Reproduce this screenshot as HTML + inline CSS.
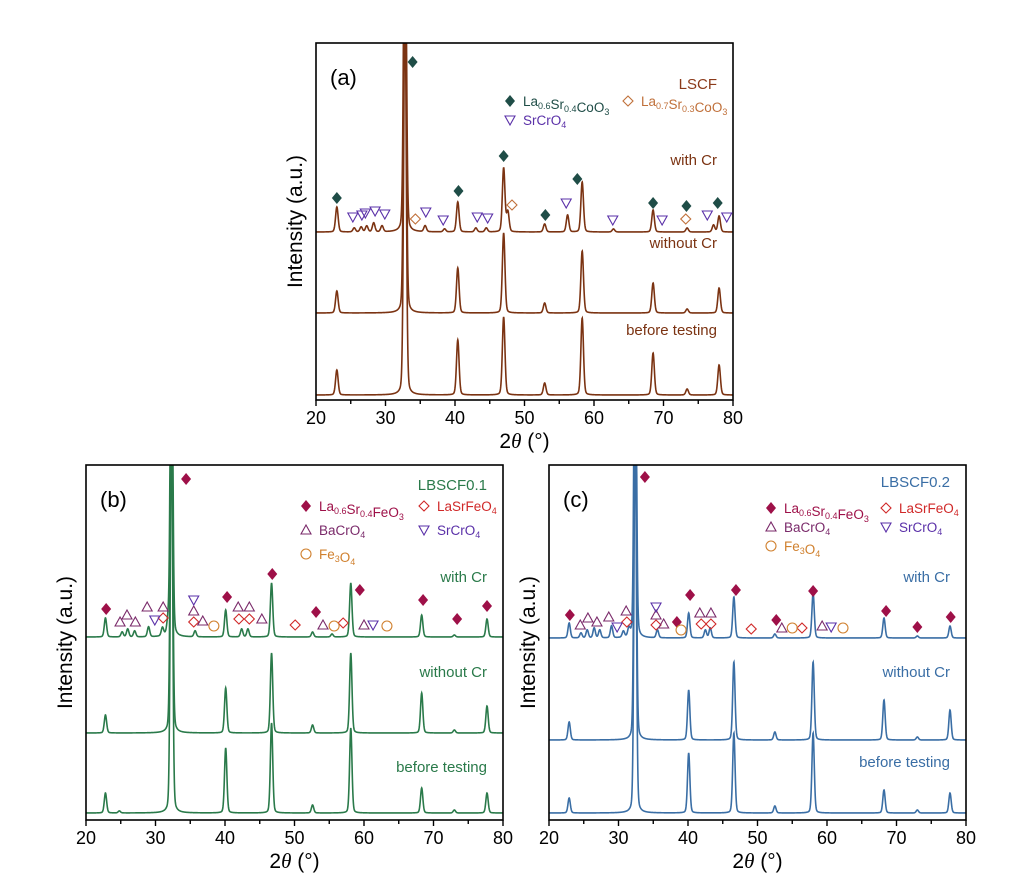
<!DOCTYPE html>
<html><head><meta charset="utf-8">
<style>
html,body{margin:0;padding:0;background:#fff;}
svg{display:block;font-family:"Liberation Sans",Arial,sans-serif;}
</style></head>
<body>
<svg id="fig" width="1034" height="896" viewBox="0 0 1034 896" xmlns="http://www.w3.org/2000/svg"></svg>
<script>
// ---------- DATA ----------
const ticksX = [20,30,40,50,60,70,80];
const traceNames = ["with Cr","without Cr","before testing"];
// Panel (a) LSCF peaks: positions (2θ) and heights (a.u.)
const aWithPos = [23.0,25.5,26.5,27.3,28.3,29.5,32.8,35.7,38.5,40.4,43.0,44.5,47.0,47.6,52.9,56.2,58.3,62.8,68.5,73.4,77.2,78.0];
const aWithH   = [25,4,5,6,9,6,400,6,3,30,4,4,64,20,8,17,50,3,22,4,7,16];
const aNoPos = [23.0,32.8,40.4,47.0,52.9,58.3,68.5,73.4,78.0];
const aNoH   = [22,400,45,80,10,62,30,4,25];
const aBefPos = [23.0,32.8,40.4,47.0,52.9,58.3,68.5,73.4,78.0];
const aBefH   = [25,400,55,78,12,77,42,6,30];
// Panel (b) LBSCF0.1
const bWithPos = [22.8,25.2,26.0,27.0,29.0,31.0,31.8,32.3,35.7,40.1,42.4,43.3,46.7,52.6,55.4,58.1,68.3,73.0,77.7];
const bWithH   = [19,5,8,6,10,8,12,400,6,27,8,8,54,5,3,54,22,2,18];
const bNoPos = [22.8,32.3,40.1,46.7,52.6,58.1,68.3,73.0,77.7];
const bNoH   = [18,400,45,80,8,80,40,3,27];
const bBefPos = [22.8,24.8,32.3,40.1,46.7,52.6,58.1,68.3,73.0,77.7];
const bBefH   = [20,2,400,65,90,8,85,25,3,20];
// Panel (c) LBSCF0.2
const cWithPos = [22.9,24.6,25.5,26.5,27.3,29.0,30.7,31.5,32.4,35.6,40.1,42.5,43.2,46.6,52.5,58.0,68.2,73.0,77.7];
const cWithH   = [15,5,8,10,8,12,6,8,400,8,25,8,10,41,4,45,20,2,12];
const cNoPos = [22.9,32.4,40.1,46.6,52.5,58.0,68.2,73.0,77.7];
const cNoH   = [18,400,50,78,8,78,40,3,30];
const cBefPos = [22.9,32.4,40.1,46.6,52.5,58.0,68.2,73.0,77.7];
const cBefH   = [15,400,60,80,7,80,23,3,20];
// Phase markers (2θ, height above with-Cr baseline)
const aDiaX=[23.0,33.9,40.5,47.0,53.0,57.6,68.5,73.3,77.8], aDiaY=[34,170,41,76,17,53,29,26,29];
const aOdiaX=[34.3,48.2,73.2], aOdiaY=[13,27,13];
const aTriDX=[25.3,26.6,27.1,28.5,29.9,35.8,38.3,43.2,44.7,56.0,62.7,69.8,76.3,79.1], aTriDY=[15,17,19,21,18,20,12,15,14,29,12,12,17,15];
const bDiaX=[22.9,34.4,40.3,46.8,53.1,59.4,68.5,73.4,77.7], bDiaY=[28,158,40,63,25,47,37,18,31];
const bOdiaX=[31.1,35.5,42.0,43.5,50.1,57.0], bOdiaY=[19,15,18,18,12,14];
const bTriUX=[24.9,25.9,27.1,28.8,31.1,35.5,36.8,41.9,43.5,45.3,54.1,60.0], bTriUY=[15,22,15,30,30,26,16,30,30,18,12,12];
const bTriDX=[29.9,35.5,61.3], bTriDY=[17,37,12];
const bCirX=[38.4,55.7,63.3], bCirY=[11,11,11];
const cDiaX=[23.0,33.8,38.4,40.3,46.9,52.7,58.0,68.5,73.0,77.8], cDiaY=[23,161,16,43,48,18,47,27,11,21];
const cOdiaX=[31.2,35.4,41.9,43.3,49.1,56.4], cOdiaY=[16,13,14,14,9,10];
const cTriUX=[24.5,25.6,26.9,28.6,31.1,35.4,36.5,41.7,43.3,53.5,59.3], cTriUY=[13,20,16,21,27,23,14,25,25,10,12];
const cTriDX=[29.8,35.4,60.6], cTriDY=[11,31,11];
const cCirX=[39.0,55.0,62.3], cCirY=[8,10,10];

// ---------- DRAWING ----------
const NS="http://www.w3.org/2000/svg";
const svg=document.getElementById('fig');
function mk(tag,attrs,parent){const e=document.createElementNS(NS,tag);for(const k in attrs)e.setAttribute(k,attrs[k]);(parent||svg).appendChild(e);return e;}
function profile(pos,h,x,w){let s=0;for(let i=0;i<pos.length;i++){const d=(x-pos[i])/w;s+=h[i]*(0.8*Math.exp(-0.693*d*d)+0.2/(1+d*d));}return s;}

function panel(P){
  const xs=v=>P.x0+(v-20)*(P.x1-P.x0)/60;
  const g=mk('g',{});
  
  
  const cp=mk('clipPath',{id:'clip-'+P.id},g);
  mk('rect',{x:P.x0,y:P.top,width:P.x1-P.x0,height:P.bot-P.top},cp);
  P.traces.forEach((t,ti)=>{
    let d='';
    for(let x=20;x<=80.001;x+=0.03){
      const y=t.base-profile(t.pos,t.h,x,P.w);
      d+=(d?'L':'M')+xs(x).toFixed(2)+','+Math.max(P.top-5,y).toFixed(2);
    }
    const p=mk('path',{d:d,fill:'none',stroke:P.color,'stroke-width':1.6,'clip-path':'url(#clip-'+P.id+')'},g);
    
    
    const lb=mk('text',{x:P.x1-16,y:t.labelY,'text-anchor':'end','font-size':15,fill:P.color},g);
    lb.textContent=traceNames[ti];
    
    
  });
  const fr=mk('rect',{x:P.x0,y:P.top,width:P.x1-P.x0,height:P.bot-P.top,fill:'none',stroke:'#000','stroke-width':1.6},g);
  
  
  for(let v=20;v<=80;v+=5){
    const major=v%10===0;
    const tk=mk('line',{x1:xs(v),x2:xs(v),y1:P.bot,y2:P.bot+(major?6:4),stroke:'#000','stroke-width':1.4},g);
    
    
  }
  ticksX.forEach(v=>{
    const t=mk('text',{x:xs(v),y:P.bot+24,'text-anchor':'middle','font-size':18,fill:'#000'},g);
    t.textContent=v;
    
    
  });
  const xt=mk('text',{x:(P.x0+P.x1)/2,y:P.bot+48,'text-anchor':'middle','font-size':21,fill:'#000'},g);
  xt.innerHTML='2<tspan font-style="italic" font-family="Liberation Serif,serif">θ</tspan> (°)';
  
  
  const yt=mk('text',{x:0,y:0,'text-anchor':'middle','font-size':21,fill:'#000',transform:`translate(${P.x0-14},${(P.top+P.bot)/2}) rotate(-90)`},g);
  yt.textContent='Intensity (a.u.)';
  
  
  const pl=mk('text',{x:P.x0+14,y:P.top+42,'font-size':22,fill:'#000'},g);
  pl.textContent=P.tag;
  
  
  const st=mk('text',{x:P.x1-16,y:P.top+P.sampleDy,'text-anchor':'end','font-size':15,fill:P.sampleColor},g);
  st.textContent=P.sample;
  
  
  const base=P.traces[0].base;
  P.markers.forEach(m=>{
    m.x.forEach((v,i)=>{
      const el=symbol(g,m.type,xs(v),base-m.y[i],m.color);
      
      
    });
  });
  P.legend.forEach(L=>{
    const s=symbol(g,L.type,L.x,L.y-5,L.color);
    
    
    const t=mk('text',{x:L.x+13,y:L.y,'font-size':13.5,fill:L.tcolor},g);
    t.innerHTML=L.html;
    
    
  });
}
function symbol(g,type,x,y,c){
  const r=5;
  if(type==='dia') return mk('polygon',{points:`${x},${y-r-1} ${x+r},${y} ${x},${y+r+1} ${x-r},${y}`,fill:c},g);
  if(type==='odia') return mk('polygon',{points:`${x},${y-r} ${x+r},${y} ${x},${y+r} ${x-r},${y}`,fill:'none',stroke:c,'stroke-width':1.1},g);
  if(type==='triu') return mk('polygon',{points:`${x},${y-r} ${x+r},${y+r-1} ${x-r},${y+r-1}`,fill:'none',stroke:c,'stroke-width':1.1},g);
  if(type==='trid') return mk('polygon',{points:`${x-r},${y-r+1} ${x+r},${y-r+1} ${x},${y+r}`,fill:'none',stroke:c,'stroke-width':1.1},g);
  return mk('circle',{cx:x,cy:y,r:r,fill:'none',stroke:c,'stroke-width':1.1},g);
}
const sub=(a)=>`<tspan font-size="9" dy="3">${a}</tspan><tspan dy="-3"></tspan>`;
const crim='#9e1048', red='#d02828', bac='#7a2a6a', src='#5a30a8', feo='#d0802e';

panel({id:'a',tag:'(a)',x0:316,x1:733,top:43,bot:400,w:0.22,color:'#7b3312',
  sample:'LSCF',sampleColor:'#8b3a1a',sampleDy:46,
  traces:[{pos:aWithPos,h:aWithH,base:232,labelY:165},{pos:aNoPos,h:aNoH,base:313,labelY:248},{pos:aBefPos,h:aBefH,base:395,labelY:335}],
  markers:[{name:'la06sr04coo3',type:'dia',x:aDiaX,y:aDiaY,color:'#1f4d47'},
           {name:'la07sr03coo3',type:'odia',x:aOdiaX,y:aOdiaY,color:'#c0703a'},
           {name:'srcro4',type:'trid',x:aTriDX,y:aTriDY,color:src}],
  legend:[{type:'dia',x:510,y:106,color:'#1f4d47',tcolor:'#1f4d47',html:'La'+sub('0.6')+'Sr'+sub('0.4')+'CoO'+sub('3')},
          {type:'odia',x:628,y:106,color:'#c0703a',tcolor:'#c0703a',html:'La'+sub('0.7')+'Sr'+sub('0.3')+'CoO'+sub('3')},
          {type:'trid',x:510,y:125,color:src,tcolor:src,html:'SrCrO'+sub('4')}]
});
panel({id:'b',tag:'(b)',x0:86,x1:503,top:465,bot:820,w:0.2,color:'#2a7a4a',
  sample:'LBSCF0.1',sampleColor:'#2a7a4a',sampleDy:25,
  traces:[{pos:bWithPos,h:bWithH,base:637,labelY:582},{pos:bNoPos,h:bNoH,base:733,labelY:677},{pos:bBefPos,h:bBefH,base:813,labelY:772}],
  markers:[{name:'la06sr04feo3',type:'dia',x:bDiaX,y:bDiaY,color:crim},
           {name:'lasrfeo4',type:'odia',x:bOdiaX,y:bOdiaY,color:red},
           {name:'bacro4',type:'triu',x:bTriUX,y:bTriUY,color:bac},
           {name:'srcro4',type:'trid',x:bTriDX,y:bTriDY,color:src},
           {name:'fe3o4',type:'cir',x:bCirX,y:bCirY,color:feo}],
  legend:[{type:'dia',x:306,y:511,color:crim,tcolor:crim,html:'La'+sub('0.6')+'Sr'+sub('0.4')+'FeO'+sub('3')},
          {type:'odia',x:424,y:511,color:red,tcolor:red,html:'LaSrFeO'+sub('4')},
          {type:'triu',x:306,y:535,color:bac,tcolor:bac,html:'BaCrO'+sub('4')},
          {type:'trid',x:424,y:535,color:src,tcolor:src,html:'SrCrO'+sub('4')},
          {type:'cir',x:306,y:559,color:feo,tcolor:feo,html:'Fe'+sub('3')+'O'+sub('4')}]
});
panel({id:'c',tag:'(c)',x0:549,x1:966,top:465,bot:820,w:0.2,color:'#3a6ea5',
  sample:'LBSCF0.2',sampleColor:'#3a6ea5',sampleDy:22,
  traces:[{pos:cWithPos,h:cWithH,base:638,labelY:582},{pos:cNoPos,h:cNoH,base:740,labelY:677},{pos:cBefPos,h:cBefH,base:813,labelY:767}],
  markers:[{name:'la06sr04feo3',type:'dia',x:cDiaX,y:cDiaY,color:crim},
           {name:'lasrfeo4',type:'odia',x:cOdiaX,y:cOdiaY,color:red},
           {name:'bacro4',type:'triu',x:cTriUX,y:cTriUY,color:bac},
           {name:'srcro4',type:'trid',x:cTriDX,y:cTriDY,color:src},
           {name:'fe3o4',type:'cir',x:cCirX,y:cCirY,color:feo}],
  legend:[{type:'dia',x:771,y:513,color:crim,tcolor:crim,html:'La'+sub('0.6')+'Sr'+sub('0.4')+'FeO'+sub('3')},
          {type:'odia',x:886,y:513,color:red,tcolor:red,html:'LaSrFeO'+sub('4')},
          {type:'triu',x:771,y:532,color:bac,tcolor:bac,html:'BaCrO'+sub('4')},
          {type:'trid',x:886,y:532,color:src,tcolor:src,html:'SrCrO'+sub('4')},
          {type:'cir',x:771,y:551,color:feo,tcolor:feo,html:'Fe'+sub('3')+'O'+sub('4')}]
});
</script>
</body></html>
